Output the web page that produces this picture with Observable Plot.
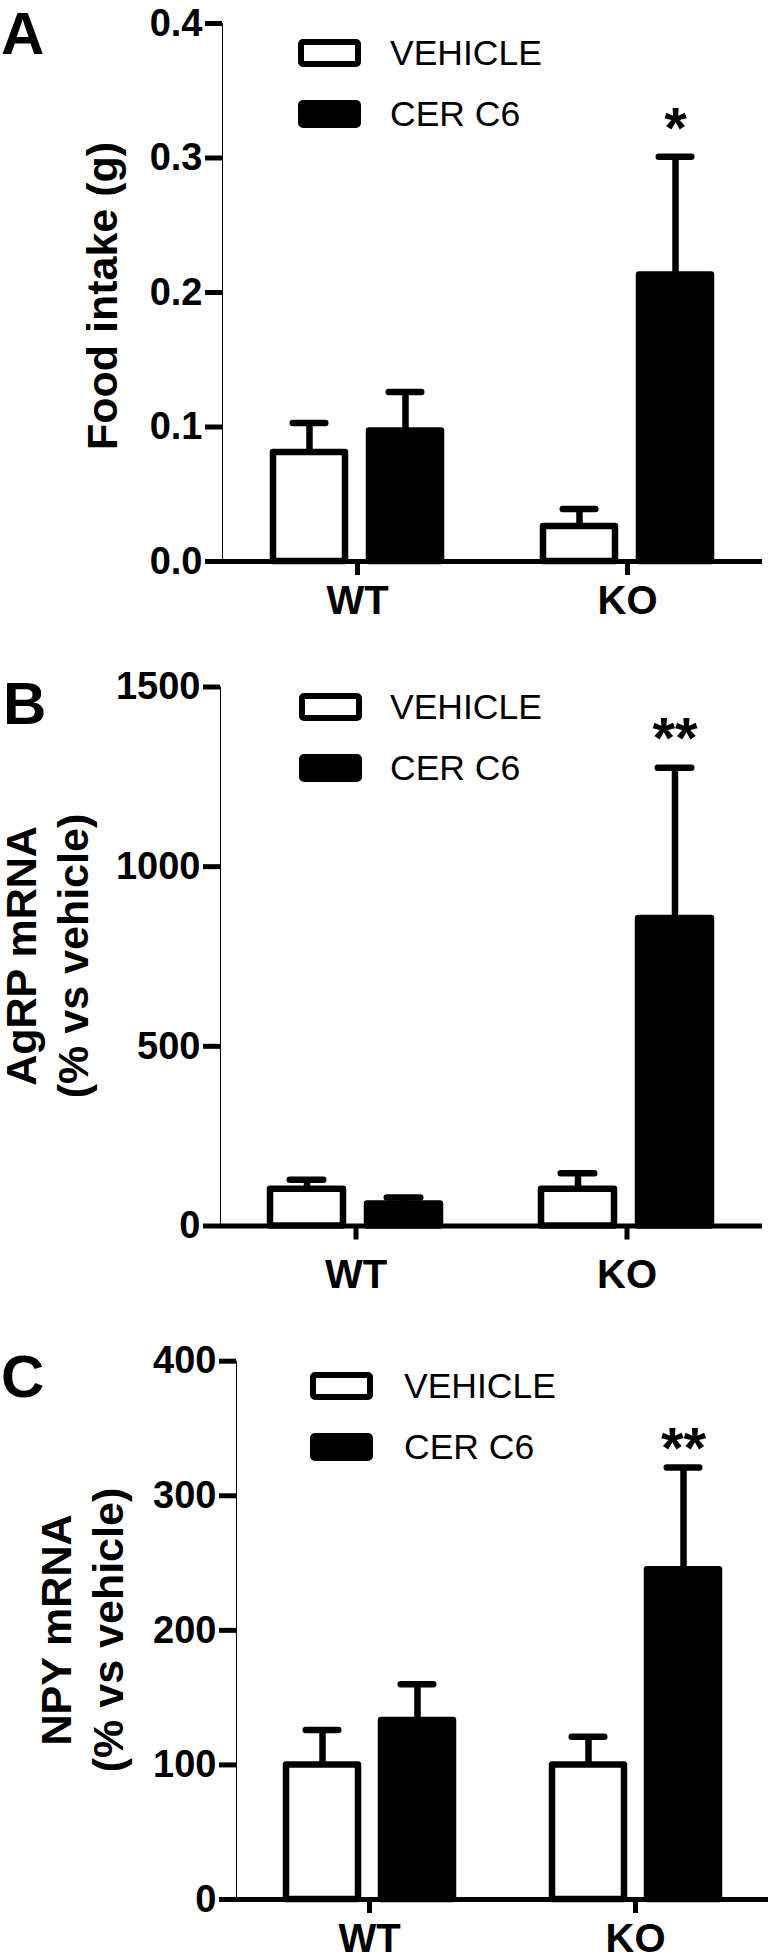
<!DOCTYPE html>
<html>
<head>
<meta charset="utf-8">
<script src="https://cdn.jsdelivr.net/npm/d3@7"></script>
<script src="https://cdn.jsdelivr.net/npm/@observablehq/plot@0.6"></script>
<style>
html, body { margin: 0; padding: 0; background: #fff; }
body { width: 780px; height: 1957px; overflow: hidden; font-family: "Liberation Sans", Arial, Helvetica, sans-serif; color: #000; }
.panel { position: relative; width: 780px; }
.panel svg { display: block; }
.letter { position: absolute; font-weight: bold; font-size: 60px; line-height: 68px; }
.ytitle { position: absolute; font-weight: bold; font-size: 43px; line-height: 40px; text-align: center; white-space: nowrap;
  transform: translate(-50%, -50%) rotate(-90deg); }
.lrow { position: absolute; height: 28px; }
.lbox { position: absolute; left: 0; top: 0; width: 63px; height: 28px; box-sizing: border-box; border: 6px solid #000; border-radius: 5px; }
.ltext { position: absolute; top: 0; height: 28px; line-height: 28px; font-size: 35.5px; white-space: nowrap; }
.panel svg [aria-label^="y-axis"], .panel svg [aria-label^="y-axis"] line, .panel svg [aria-label^="y-axis"] path,
.panel svg [aria-label^="fx-axis"], .panel svg [aria-label^="fx-axis"] line, .panel svg [aria-label^="fx-axis"] path { stroke-width: 5px; }
.panel svg [aria-label^="y-axis"] text { font-family: "Liberation Sans", Arial, sans-serif; font-weight: bold; font-size: 38px; }
.panel svg [aria-label^="fx-axis"] text { font-family: "Liberation Sans", Arial, sans-serif; font-weight: bold; font-size: 40px; }
</style>
</head>
<body>
<div id="root"></div>
<script>
// ---- data ----
const groups = ["WT", "KO"];
const treatments = ["VEHICLE", "CER C6"];

// Panel A: Food intake (g)
const foodVehicle = [0.081, 0.026];
const foodVehicleSem = [0.022, 0.013];
const foodCer = [0.097, 0.213];
const foodCerSem = [0.029, 0.088];
const foodSig = ["", "*"];
const foodTicks = [0, 0.1, 0.2, 0.3, 0.4];

// Panel B: AgRP mRNA (% vs vehicle)
const agrpVehicle = [102, 102];
const agrpVehicleSem = [27, 45];
const agrpCer = [61, 856];
const agrpCerSem = [18, 419];
const agrpSig = ["", "**"];
const agrpTicks = [0, 500, 1000, 1500];

// Panel C: NPY mRNA (% vs vehicle)
const npyVehicle = [100, 100];
const npyVehicleSem = [26, 21];
const npyCer = [133, 245];
const npyCerSem = [27, 76];
const npySig = ["", "**"];
const npyTicks = [0, 100, 200, 300, 400];

function rowsFor(veh, vehSem, cer, cerSem, sig) {
  return groups.flatMap((g, i) => [
    {group: g, treatment: treatments[0], mean: veh[i], sem: vehSem[i], sig: ""},
    {group: g, treatment: treatments[1], mean: cer[i], sem: cerSem[i], sig: sig[i]}
  ]);
}

const panels = [
  {letter: "A", top: 0, height: 640, mt: 23, mb: 79, ml: 221, mr: 18, tickPad: 10,
   rows: rowsFor(foodVehicle, foodVehicleSem, foodCer, foodCerSem, foodSig),
   ticks: foodTicks, fmt: d3.format(".1f"), title: ["Food intake (g)"], titleXs: [102], titleY: 296,
   letterCap: 12, letterLeft: 1, legX: 298, legY: 53, legText: 390, starDy: -27},
  {letter: "B", top: 640, height: 660, mt: 46.5, mb: 74.5, ml: 220, mr: 18, tickPad: 20,
   rows: rowsFor(agrpVehicle, agrpVehicleSem, agrpCer, agrpCerSem, agrpSig),
   ticks: agrpTicks, fmt: d3.format("d"), title: ["AgRP mRNA", "(% vs vehicle)"], titleXs: [21, 73], titleY: 956,
   letterCap: 682, letterLeft: 3, legX: 299, legY: 707, legText: 390, starDy: -28},
  {letter: "C", top: 1300, height: 657, mt: 60.7, mb: 58, ml: 235, mr: 12, tickPad: 10,
   rows: rowsFor(npyVehicle, npyVehicleSem, npyCer, npyCerSem, npySig),
   ticks: npyTicks, fmt: d3.format("d"), title: ["NPY mRNA", "(% vs vehicle)"], titleXs: [56, 108], titleY: 1630,
   letterCap: 1355, letterLeft: 1, legX: 310, legY: 1386, legText: 404, starDy: -18}
];

const root = document.getElementById("root");

for (const p of panels) {
  const div = document.createElement("div");
  div.className = "panel";
  div.style.height = p.height + "px";
  root.appendChild(div);

  const chart = Plot.plot({
    width: 780,
    height: p.height,
    marginTop: p.mt,
    marginBottom: p.mb,
    marginLeft: p.ml,
    marginRight: p.mr,
    style: {fontFamily: "'Liberation Sans', Arial, sans-serif", fontSize: "38px", background: "white", overflow: "visible"},
    facet: {data: p.rows, x: "group"},
    fx: {domain: groups, padding: 0, label: null, tickSize: 14, tickPadding: p.tickPad},
    x: {domain: treatments, paddingInner: 0.247, paddingOuter: 0.518, axis: null},
    y: {domain: [d3.min(p.ticks), d3.max(p.ticks)], ticks: p.ticks.length - 1, tickFormat: p.fmt,
        tickSize: 17, tickPadding: 3, label: null, line: true},
    color: {domain: treatments, range: ["white", "black"], legend: false},
    marks: [
      Plot.barY(p.rows, {x: "treatment", y: "mean", fill: "treatment", stroke: "black", strokeWidth: 6.5, strokeLinejoin: "round"}),
      Plot.ruleX(p.rows, {x: "treatment", y1: "mean", y2: d => d.mean + d.sem, stroke: "black", strokeWidth: 6.5}),
      Plot.tickY(p.rows, {x: "treatment", y: d => d.mean + d.sem, stroke: "black", strokeWidth: 6.5, strokeLinecap: "round", inset: 19.75}),
      Plot.text(p.rows, {x: "treatment", y: d => d.mean + d.sem, text: "sig", dy: p.starDy, fontSize: 58, fontWeight: "bold", fill: "black"}),
      Plot.ruleY([0], {stroke: "black", strokeWidth: 5})
    ]
  });
  div.appendChild(chart);

  // panel letter (cap top placed at letterCap)
  const L = document.createElement("div");
  L.className = "letter";
  L.textContent = p.letter;
  L.style.left = p.letterLeft + "px";
  L.style.top = (p.letterCap - p.top - 12) + "px";
  div.appendChild(L);

  // y title, one rotated line per entry
  p.title.forEach((line, i) => {
    const T = document.createElement("div");
    T.className = "ytitle";
    T.textContent = line;
    T.style.left = p.titleXs[i] + "px";
    T.style.top = (p.titleY - p.top) + "px";
    div.appendChild(T);
  });

  // legend
  treatments.forEach((t, i) => {
    const row = document.createElement("div");
    row.className = "lrow";
    row.style.left = p.legX + "px";
    row.style.top = (p.legY - p.top + i * 61 - 14) + "px";
    const box = document.createElement("div");
    box.className = "lbox";
    box.style.background = i === 0 ? "white" : "black";
    row.appendChild(box);
    const txt = document.createElement("div");
    txt.className = "ltext";
    txt.style.left = (p.legText - p.legX) + "px";
    txt.textContent = t;
    row.appendChild(txt);
    div.appendChild(row);
  });
}
</script>
</body>
</html>
